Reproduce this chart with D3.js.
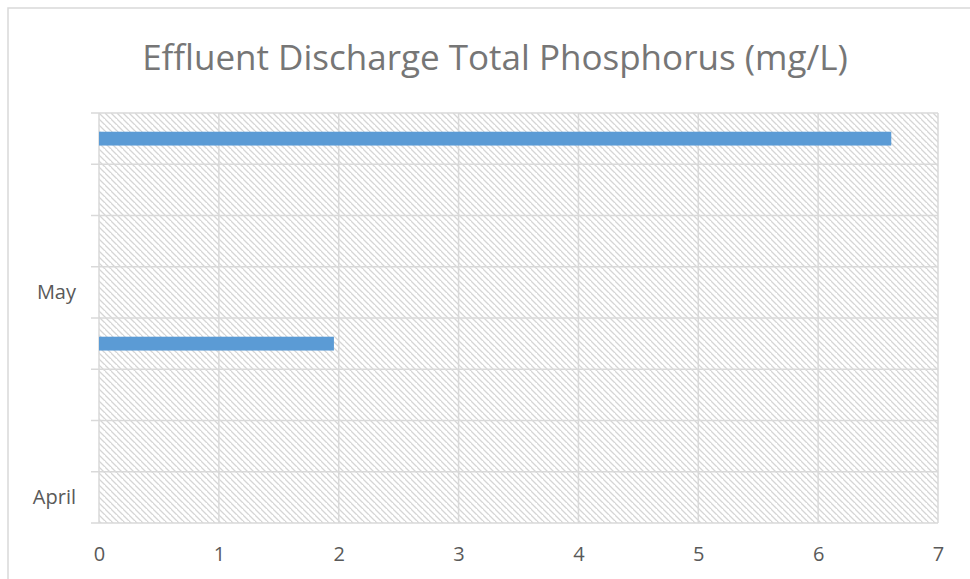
<!DOCTYPE html>
<html>
<head>
<meta charset="utf-8">
<script src="https://cdn.jsdelivr.net/npm/d3@7"></script>
<style>
  body { margin: 0; background: #fff; }
  svg { display: block; font-family: "Open Sans", "Noto Sans", sans-serif; }
  .title { fill: #767676; font-size: 35px; }
  .axis text { fill: #595959; font-size: 20px; font-family: "Open Sans", "Noto Sans", sans-serif; }
</style>
</head>
<body>
<svg width="970" height="579"></svg>
<script>
// weeks from bottom to top, only first week of each month gets a label
const categories = ['Apr-1', 'Apr-2', 'Apr-3', 'Apr-4', 'May-1', 'May-2', 'May-3', 'May-4'];
const catLabels = ['April', '', '', '', 'May', '', '', ''];
const values = [null, null, null, 1.96, null, null, null, 6.61];
const xTicks = [0, 1, 2, 3, 4, 5, 6, 7];

const data = categories.map((c, i) => ({ cat: c, label: catLabels[i], value: values[i] }));

const svg = d3.select('svg');
const margin = { top: 113, right: 32, bottom: 56, left: 99 };
const width = 970 - margin.left - margin.right;
const height = 579 - margin.top - margin.bottom;

// outer chart frame (only top and left edge are in view)
svg.append('path')
  .attr('d', 'M8,579 V8 H970')
  .attr('fill', 'none')
  .attr('stroke', '#d9d9d9')
  .attr('stroke-width', 1.5);

const pat = svg.append('defs').append('pattern')
  .attr('id', 'hatch')
  .attr('patternUnits', 'userSpaceOnUse')
  .attr('width', 6)
  .attr('height', 6);
pat.append('path')
  .attr('d', 'M-1,-1 L7,7 M-4,2 L2,8 M4,-4 L10,2')
  .attr('stroke', '#d5d5d5')
  .attr('stroke-width', 1.3);

svg.append('text')
  .attr('class', 'title')
  .attr('x', 495)
  .attr('y', 70)
  .attr('text-anchor', 'middle')
  .text('Effluent Discharge Total Phosphorus (mg/L)');

const g = svg.append('g')
  .attr('transform', `translate(${margin.left}, ${margin.top})`);

const xScale = d3.scaleLinear()
  .domain([0, 7])
  .range([0, width]);

const yScale = d3.scaleBand()
  .domain(categories.slice().reverse())
  .range([0, height])
  .padding(0);

g.append('rect')
  .attr('width', width)
  .attr('height', height)
  .attr('fill', 'url(#hatch)');

// vertical grid lines
g.append('g')
  .selectAll('line')
  .data(xTicks)
  .join('line')
  .attr('x1', d => xScale(d))
  .attr('x2', d => xScale(d))
  .attr('y1', 0)
  .attr('y2', height)
  .attr('stroke', '#d9d9d9')
  .attr('stroke-width', 1.5);

// horizontal grid lines + left tick marks at band edges
const edges = categories.map(c => yScale(c)).concat([height]);
g.append('g')
  .selectAll('line')
  .data(edges)
  .join('line')
  .attr('x1', -8)
  .attr('x2', width)
  .attr('y1', d => d)
  .attr('y2', d => d)
  .attr('stroke', '#d9d9d9')
  .attr('stroke-width', 1.5);

g.append('g')
  .selectAll('rect')
  .data(data.filter(d => d.value != null))
  .join('rect')
  .attr('x', xScale(0))
  .attr('y', d => yScale(d.cat) + yScale.bandwidth() * 0.365)
  .attr('width', d => xScale(d.value) - xScale(0))
  .attr('height', yScale.bandwidth() * 0.27)
  .attr('fill', '#5b9bd5');

// x axis labels
const xAxis = g.append('g')
  .attr('class', 'axis')
  .attr('transform', `translate(0, ${height})`)
  .call(d3.axisBottom(xScale).tickValues(xTicks).tickFormat(d3.format('d')).tickSize(0).tickPadding(24));
xAxis.select('.domain').remove();

// y axis labels
const yAxis = g.append('g')
  .attr('class', 'axis')
  .call(d3.axisLeft(yScale).tickSize(0).tickPadding(23)
    .tickFormat(c => catLabels[categories.indexOf(c)]));
yAxis.select('.domain').remove();
</script>
</body>
</html>
